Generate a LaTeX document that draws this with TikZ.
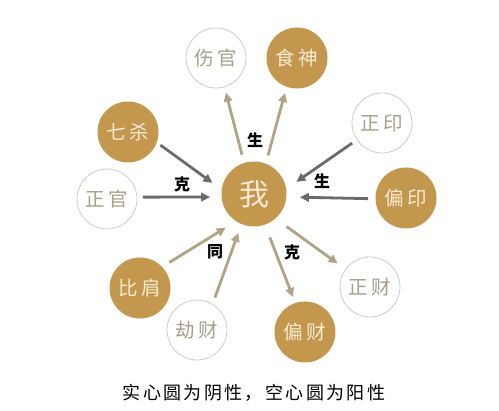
\documentclass[tikz,border=0pt]{standalone}
\usepackage{fontspec}
\usepackage{tikz}
\usetikzlibrary{positioning,arrows.meta}
\newfontfamily\cjk{Noto Sans CJK SC}
\newfontfamily\cjkwide[LetterSpace=20]{Noto Sans CJK SC}
\newfontfamily\cjkcap[LetterSpace=13]{Noto Sans CJK SC}
\definecolor{gold}{HTML}{C4974F}
\definecolor{cream}{HTML}{F6EBD2}
\definecolor{palering}{HTML}{CFCCC6}
\definecolor{paletext}{HTML}{A89F8A}
\definecolor{arrowgrey}{HTML}{6B6B6B}
\definecolor{arrowtan}{HTML}{B3A385}

\begin{document}
\begin{tikzpicture}[x=1pt,y=1pt,
    yin/.style={circle,fill=gold,minimum size=61pt,inner sep=0pt,text=cream,font=\cjkwide\fontsize{19.5}{19.5}\selectfont},
    yang/.style={circle,draw=palering,line width=0.8pt,fill=white,minimum size=60pt,inner sep=0pt,text=paletext,font=\cjkwide\fontsize{19.5}{19.5}\selectfont},
    relation/.style={font=\cjk\bfseries\fontsize{16}{16}\selectfont,text=black},
    greyarrow/.style={draw=arrowgrey,line width=2.8pt,-{Triangle[length=9pt,width=8.5pt]}},
    tanarrow/.style={draw=arrowtan,line width=2.8pt,-{Triangle[length=9pt,width=8.5pt]}}]
    \useasboundingbox[fill=white] (0,0) rectangle (499,-411);

    % Self
    \node[circle,fill=gold,minimum size=65pt,inner sep=0pt,text=cream,font=\cjk\fontsize{30}{30}\selectfont] (wo) at (254,-194) {我};

    % Ten gods
    \node[yang] (shangguan) at (216,-58) {伤官};
    \node[yin] (shishen) at (297,-58) {食神};
    \node[yin] (qisha) at (128,-132) {七杀};
    \node[yang] (zhengyin) at (382,-123) {正印};
    \node[yang] (zhengguan) at (107,-199) {正官};
    \node[yin] (pianyin) at (406,-198) {偏印};
    \node[yin] (bijian) at (140,-288) {比肩};
    \node[yang] (jiecai) at (197,-330) {劫财};
    \node[yin] (piancai) at (305,-332) {偏财};
    \node[yang] (zhengcai) at (370,-287) {正财};

    % Output (sheng)
    \draw[tanarrow] ([shift={(107:41)}]wo.center) -- ([shift={(286:36)}]shangguan.center);
    \draw[tanarrow] ([shift={(70:41)}]wo.center) -- ([shift={(251:37)}]shishen.center);
    \node[relation] (sheng1) at (255,-140) {生};

    % Controlling me (ke)
    \draw[greyarrow] ([shift={(-22:35)}]qisha.center) -- ([shift={(165:43)}]wo.center);
    \draw[greyarrow] ([shift={(3:36)}]zhengguan.center) -- ([shift={(184:44)}]wo.center);
    \node[relation] (ke1) at (182,-184) {克};

    % Resource (sheng)
    \draw[greyarrow] ([shift={(214:36)}]zhengyin.center) -- ([shift={(16:44)}]wo.center);
    \draw[greyarrow] ([shift={(181:38)}]pianyin.center) -- ([shift={(-4:46)}]wo.center);
    \node[relation] (sheng2) at (322,-181) {生};

    % Peers (tong)
    \draw[tanarrow] ([shift={(41:39)}]bijian.center) -- ([shift={(230:44)}]wo.center);
    \draw[tanarrow] ([shift={(61:37)}]jiecai.center) -- ([shift={(248:42)}]wo.center);
    \node[relation] (tong) at (215,-252) {同};

    % Wealth (ke)
    \draw[tanarrow] ([shift={(290:46)}]wo.center) -- ([shift={(109:37)}]piancai.center);
    \draw[tanarrow] ([shift={(315:46)}]wo.center) -- ([shift={(144:40)}]zhengcai.center);
    \node[relation] (ke2) at (292,-252) {克};

    % Caption
    \node[font=\cjkcap\fontsize{18}{18}\selectfont,text=black] (caption) at (254,-393) {实心圆为阴性，空心圆为阳性};

  \end{tikzpicture}
\end{document}
